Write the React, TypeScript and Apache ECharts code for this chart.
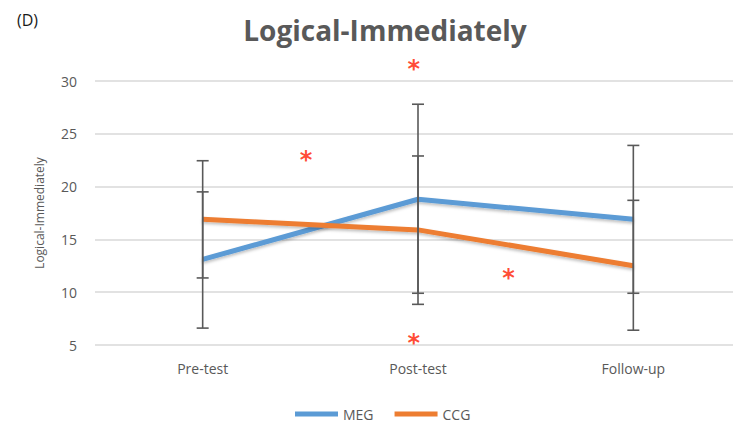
import React, { useEffect, useRef } from "react";
import * as echarts from "echarts";

const categories = ["Pre-test", "Post-test", "Follow-up"];
const megValues = [13.1, 18.8, 16.9];
const ccgValues = [16.9, 15.9, 12.5];
const megErrors = [
  [6.6, 19.5],
  [9.9, 27.8],
  [9.9, 23.9],
];
const ccgErrors = [
  [11.35, 22.45],
  [8.85, 22.9],
  [6.4, 18.7],
];
// significance markers: [x position in category units, y value]
const starPoints = [
  [0.98, 31.8],
  [0.48, 23.2],
  [0.98, 5.85],
  [1.42, 12.0],
];
const yTicks = { min: 5, max: 30, interval: 5 };

export default function App() {
  const ref = useRef<HTMLDivElement>(null);
  useEffect(() => {
    if (!ref.current) return;
    const chart = echarts.init(ref.current, undefined, { renderer: "svg" });
    const errData: number[][] = [];
    megErrors.forEach((e, i) => errData.push([i, e[0], e[1]]));
    ccgErrors.forEach((e, i) => errData.push([i, e[0], e[1]]));
    const font = "'Open Sans', 'Noto Sans', sans-serif";
    chart.setOption({
      animation: false,
      backgroundColor: "#ffffff",
      title: {
        text: "Logical-Immediately",
        left: 380,
        textAlign: "center",
        top: 11,
        textStyle: {
          fontFamily: font,
          fontWeight: "bold",
          fontSize: 28,
          color: "#595959",
        },
      },
      graphic: [
        {
          type: "text",
          left: 17,
          top: 12,
          style: {
            text: "(D)",
            fontFamily: font,
            fontSize: 16,
            fill: "#1a1a1a",
          },
        },
      ],
      legend: {
        bottom: 3,
        left: 290,
        itemWidth: 43,
        itemHeight: 5,
        itemGap: 21,
        icon: "rect",
        textStyle: { fontFamily: font, fontSize: 14, color: "#595959" },
        data: ["MEG", "CCG"],
      },
      grid: { left: 95, right: 0, top: 81, bottom: 84 },
      xAxis: [
        {
          type: "category",
          data: categories,
          axisLine: { show: false },
          axisTick: { show: false },
          axisLabel: {
            fontFamily: font,
            fontSize: 14,
            color: "#595959",
            margin: 16,
          },
        },
        {
          type: "value",
          min: -0.5,
          max: 2.5,
          show: false,
        },
      ],
      yAxis: {
        type: "value",
        min: yTicks.min,
        max: yTicks.max,
        interval: yTicks.interval,
        name: "Logical-Immediately",
        nameLocation: "middle",
        nameGap: 50,
        nameTextStyle: { fontFamily: font, fontSize: 12, color: "#595959" },
        axisLine: { show: false },
        axisTick: { show: false },
        axisLabel: { fontFamily: font, fontSize: 14, color: "#595959", margin: 18 },
        splitLine: { lineStyle: { color: "#d9d9d9", width: 1.5 } },
      },
      series: [
        {
          name: "MEG",
          type: "line",
          data: megValues,
          symbol: "none",
          z: 3,
          itemStyle: { color: "#5B9BD5" },
          lineStyle: {
            color: "#5B9BD5",
            width: 5,
            shadowColor: "rgba(0,0,0,0.25)",
            shadowBlur: 3,
            shadowOffsetY: 2,
          },
        },
        {
          name: "CCG",
          type: "line",
          data: ccgValues,
          symbol: "none",
          z: 3,
          itemStyle: { color: "#ED7D31" },
          lineStyle: {
            color: "#ED7D31",
            width: 5,
            shadowColor: "rgba(0,0,0,0.25)",
            shadowBlur: 3,
            shadowOffsetY: 2,
          },
        },
        {
          type: "custom",
          z: 4,
          data: errData,
          renderItem: (params: any, api: any) => {
            const x = api.value(0);
            const lo = api.coord([x, api.value(1)]);
            const hi = api.coord([x, api.value(2)]);
            const cap = 6;
            const style = { stroke: "#595959", lineWidth: 1.6 };
            return {
              type: "group",
              children: [
                { type: "line", shape: { x1: lo[0], y1: lo[1], x2: hi[0], y2: hi[1] }, style },
                { type: "line", shape: { x1: lo[0] - cap, y1: lo[1], x2: lo[0] + cap, y2: lo[1] }, style },
                { type: "line", shape: { x1: hi[0] - cap, y1: hi[1], x2: hi[0] + cap, y2: hi[1] }, style },
              ],
            };
          },
        },
        {
          type: "scatter",
          xAxisIndex: 1,
          data: starPoints,
          symbolSize: 0,
          silent: true,
          clip: false,
          label: {
            show: true,
            position: "inside",
            formatter: "*",
            fontFamily: "'DejaVu Sans', sans-serif",
            fontWeight: "bold",
            fontSize: 24,
            color: "#ff1a00",
            offset: [0, 7],
          },
        },
      ],
    });
    return () => chart.dispose();
  }, []);
  return <div ref={ref} style={{ width: 741, height: 429, margin: -8 }} />;
}
